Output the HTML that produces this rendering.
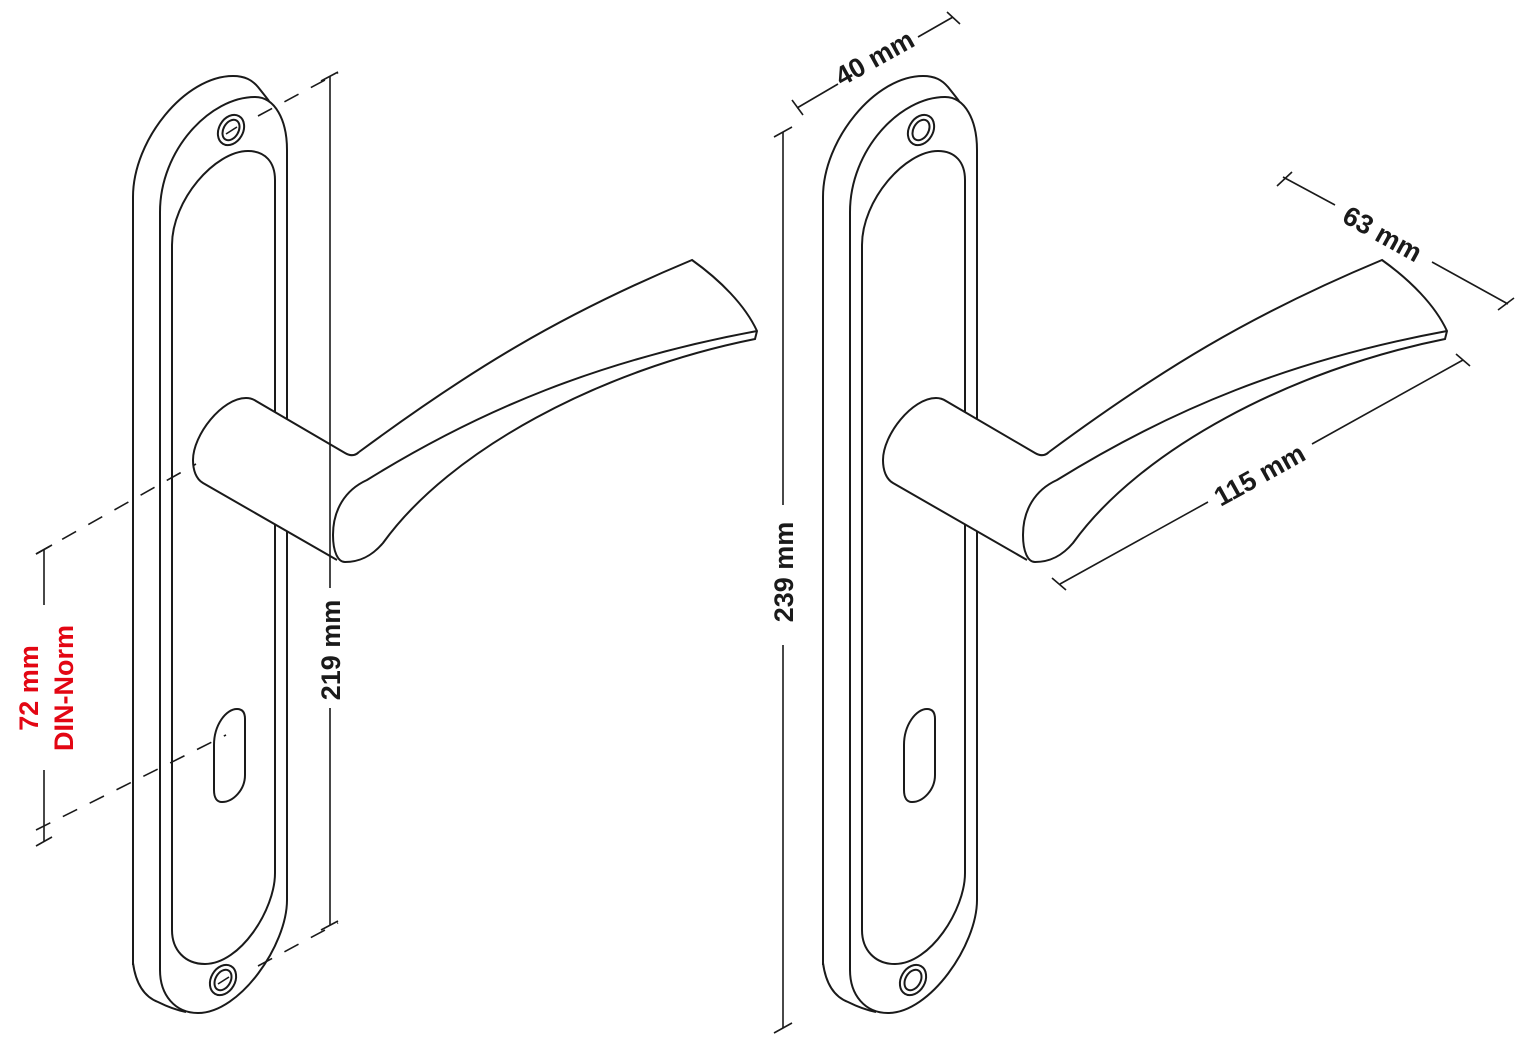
<!DOCTYPE html>
<html><head><meta charset="utf-8"><style>
html,body{margin:0;padding:0;background:#fff;}
svg{display:block;}
text{font-family:"Liberation Sans",sans-serif;font-weight:bold;font-size:27px;fill:#1a1a1a;}
</style></head><body>
<svg width="1528" height="1043" viewBox="0 0 1528 1043" xmlns="http://www.w3.org/2000/svg">
<defs>
<g id="h" fill="none" stroke="#1a1a1a" stroke-width="2">
  <path d="M133,965 L133,197 C133,140 185,76 233,76 C245,76 252,80 258,87 C262,92 266,97 269,101"/>
  <path d="M133,963 C136,985 145,997 158,1002 C166,1006 176,1010 186,1012"/>
  <path d="M160,970 L160,212 C160,150 210,97 255,97 C275,97 287,120 287,150 L287,900 C287,945 240,1013 198,1013 C175,1013 160,995 160,970 Z"/>
  <path d="M172,930 L172,245 C172,200 215,151 248,151 C265,151 275,162 275,180 L275,873 C275,910 240,964 205,964 C185,964 172,950 172,930 Z"/>
  <ellipse cx="231" cy="130" rx="12" ry="16" transform="rotate(30 231 130)"/>
  <ellipse cx="231" cy="130" rx="7.5" ry="11" transform="rotate(30 231 130)"/>
  <ellipse cx="223" cy="980" rx="12" ry="16" transform="rotate(30 223 980)"/>
  <ellipse cx="223" cy="980" rx="7.5" ry="11" transform="rotate(30 223 980)"/>
  <path d="M214,745 C214,725 226,709 237,709 C242,709 245,712 245,719 L245,775 C245,790 233,802 222,802 C217,802 214,798 214,790 Z"/>
  <path d="M337,560 L203,483 C196,479 193,470 193,460 C193,435 222,398 246,398 C250,398 253,399 256,401 L345,453 C350,456 355,456 359,452" fill="#fff"/>
  <path d="M359,452 C470,370 560,315 692,260 C720,280 745,305 757,331 L755,339 C600,370 450,450 383,543 C372,556 360,562 345,562 C338,562 333,552 333,535 C333,510 345,490 367,480 C480,410 600,360 757,331" fill="#fff"/>
</g>
</defs>
<use href="#h"/>
<use href="#h" transform="translate(690,0)"/>

<g fill="none" stroke="#1a1a1a" stroke-width="1.6">
  <line x1="226" y1="134" x2="237" y2="127"/>
  <line x1="218" y1="984" x2="229" y2="977"/>
  <line x1="330" y1="76" x2="330" y2="588"/>
  <line x1="330" y1="708" x2="330" y2="925"/>
  <line x1="321" y1="81" x2="338" y2="72"/>
  <line x1="321" y1="930" x2="338" y2="921"/>
  <path d="M258,116 L338,73" stroke-dasharray="16,14"/>
  <path d="M258,966 L338,923" stroke-dasharray="16,14"/>
  <line x1="44" y1="550" x2="44" y2="605"/>
  <line x1="44" y1="770" x2="44" y2="842"/>
  <line x1="36" y1="554" x2="52" y2="545"/>
  <line x1="36" y1="846" x2="52" y2="837"/>
  <path d="M36,554 L196,464" stroke-dasharray="16,14"/>
  <path d="M36,830 L226,735" stroke-dasharray="16,14"/>
  <line x1="797" y1="108" x2="838" y2="84"/>
  <line x1="918" y1="37" x2="953" y2="17"/>
  <line x1="792" y1="100" x2="803" y2="115"/>
  <line x1="947" y1="12" x2="960" y2="24"/>
  <line x1="783" y1="132" x2="783" y2="505"/>
  <line x1="783" y1="645" x2="783" y2="1028"/>
  <line x1="774" y1="137" x2="792" y2="127"/>
  <line x1="774" y1="1033" x2="792" y2="1023"/>
  <line x1="1283" y1="177" x2="1335" y2="205"/>
  <line x1="1432" y1="262" x2="1508" y2="304"/>
  <line x1="1277" y1="186" x2="1292" y2="172"/>
  <line x1="1498" y1="310" x2="1514" y2="298"/>
  <line x1="1060" y1="584" x2="1208" y2="502"/>
  <line x1="1312" y1="444" x2="1463" y2="360"/>
  <line x1="1052" y1="578" x2="1066" y2="590"/>
  <line x1="1456" y1="354" x2="1470" y2="366"/>
</g>

<text transform="translate(340,650) rotate(-90)" text-anchor="middle">219 mm</text>
<text transform="translate(793,572) rotate(-90)" text-anchor="middle">239 mm</text>
<text transform="translate(879,66) rotate(-29)" text-anchor="middle">40 mm</text>
<text transform="translate(1378,242) rotate(29)" text-anchor="middle">63 mm</text>
<text transform="translate(1264,483) rotate(-29)" text-anchor="middle">115 mm</text>
<text transform="translate(38,688) rotate(-90)" text-anchor="middle" style="fill:#e30613">72 mm</text>
<text transform="translate(73,688) rotate(-90)" text-anchor="middle" style="fill:#e30613">DIN-Norm</text>
</svg>
</body></html>
